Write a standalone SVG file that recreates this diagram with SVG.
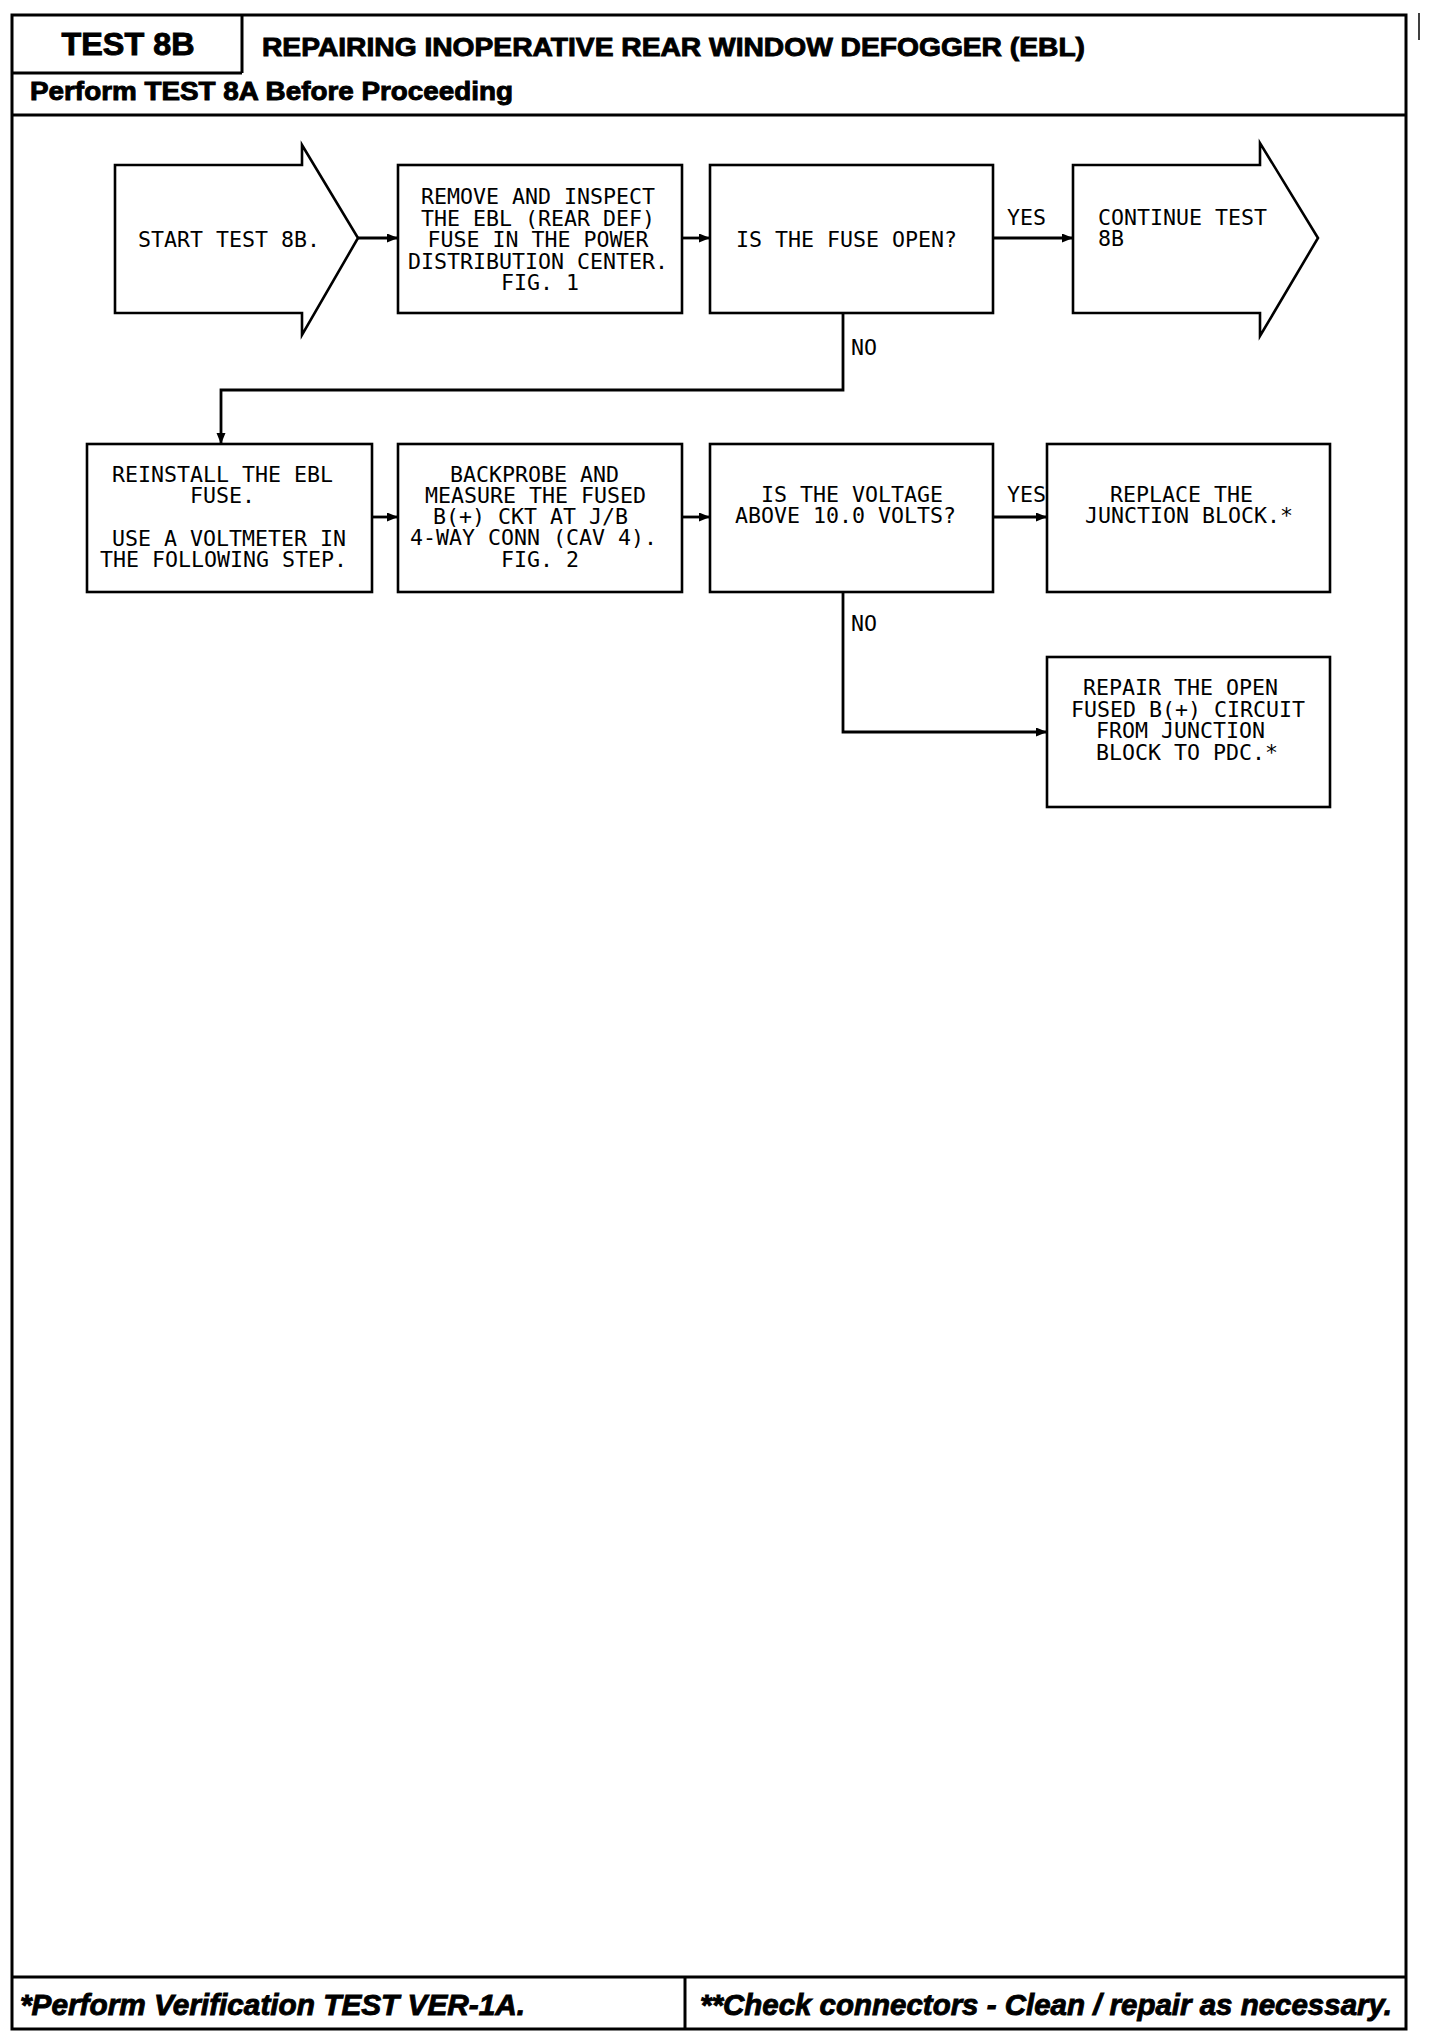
<svg xmlns="http://www.w3.org/2000/svg" width="1440" height="2036" viewBox="0 0 1440 2036">
<style>
.frame{fill:none;stroke:#000;stroke-width:3}
.box{fill:#fff;stroke:#000;stroke-width:2.6;stroke-linejoin:miter}
.conn{fill:none;stroke:#000;stroke-width:2.8}
.t{font-family:"DejaVu Sans Mono","Liberation Mono",monospace;font-size:21.6px;fill:#000}
.hb{font-family:"Liberation Sans",Arial,sans-serif;font-weight:bold;fill:#000;stroke:#000;stroke-width:0.9}
.fi{font-family:"Liberation Sans",Arial,sans-serif;font-weight:bold;font-style:italic;font-size:29px;fill:#000;stroke:#000;stroke-width:0.9}
</style>
<defs>
<marker id="ah" markerUnits="userSpaceOnUse" markerWidth="12" markerHeight="10" refX="11" refY="4.5" orient="auto">
<path d="M0,0 L11,4.5 L0,9 z" fill="#000"/>
</marker>
</defs>
<rect width="1440" height="2036" fill="#fff"/>

<g id="frame">
<rect class="frame" x="12" y="15" width="1394" height="2014"/>
<line class="frame" x1="242" y1="15" x2="242" y2="73"/>
<line class="frame" x1="12" y1="73" x2="242" y2="73"/>
<line class="frame" x1="12" y1="115" x2="1406" y2="115"/>
<line class="frame" x1="12" y1="1977" x2="1406" y2="1977"/>
<line class="frame" x1="685" y1="1977" x2="685" y2="2029"/>
<line x1="1419" y1="13" x2="1419" y2="40" stroke="#000" stroke-width="1.5"/>
</g>

<g id="header">
<text class="hb" x="128" y="55" font-size="31" text-anchor="middle" textLength="133" lengthAdjust="spacingAndGlyphs">TEST 8B</text>
<text class="hb" x="262" y="56" font-size="26" textLength="823" lengthAdjust="spacingAndGlyphs">REPAIRING INOPERATIVE REAR WINDOW DEFOGGER (EBL)</text>
<text class="hb" x="30" y="100" font-size="25" textLength="483" lengthAdjust="spacingAndGlyphs">Perform TEST 8A Before Proceeding</text>
</g>

<g id="connectors">
<path class="conn" d="M358,238 H398" marker-end="url(#ah)"/>
<path class="conn" d="M682,238 H710" marker-end="url(#ah)"/>
<path class="conn" d="M993,238 H1073" marker-end="url(#ah)"/>
<path class="conn" d="M843,313 V390 H221 V444" marker-end="url(#ah)"/>
<path class="conn" d="M372,517 H398" marker-end="url(#ah)"/>
<path class="conn" d="M682,517 H710" marker-end="url(#ah)"/>
<path class="conn" d="M993,517 H1047" marker-end="url(#ah)"/>
<path class="conn" d="M843,592 V732 H1047" marker-end="url(#ah)"/>
<text class="t" x="1007" y="225">YES</text>
<text class="t" x="851" y="355">NO</text>
<text class="t" x="1007" y="502">YES</text>
<text class="t" x="851" y="631">NO</text>
</g>

<g id="start">
<path class="box" d="M115,165 H302 V145 L358,238 L302,335 V313 H115 Z"/>
<text class="t" x="138" y="247">START TEST 8B.</text>
</g>

<g id="remove-fuse">
<rect class="box" x="398" y="165" width="284" height="148"/>
<text class="t" x="538" y="204" text-anchor="middle">REMOVE AND INSPECT</text>
<text class="t" x="538" y="225.5" text-anchor="middle">THE EBL (REAR DEF)</text>
<text class="t" x="538" y="247" text-anchor="middle">FUSE IN THE POWER</text>
<text class="t" x="538" y="268.5" text-anchor="middle">DISTRIBUTION CENTER.</text>
<text class="t" x="540" y="290" text-anchor="middle">FIG. 1</text>
</g>

<g id="fuse-open">
<rect class="box" x="710" y="165" width="283" height="148"/>
<text class="t" x="736" y="247">IS THE FUSE OPEN?</text>
</g>

<g id="continue">
<path class="box" d="M1073,165 H1260 V143 L1318,238 L1260,336 V313 H1073 Z"/>
<text class="t" x="1098" y="225">CONTINUE TEST</text>
<text class="t" x="1098" y="246">8B</text>
</g>

<g id="reinstall">
<rect class="box" x="87" y="444" width="285" height="148"/>
<text class="t" x="112" y="482">REINSTALL THE EBL</text>
<text class="t" x="190" y="503">FUSE.</text>
<text class="t" x="112" y="546">USE A VOLTMETER IN</text>
<text class="t" x="100" y="567">THE FOLLOWING STEP.</text>
</g>

<g id="backprobe">
<rect class="box" x="398" y="444" width="284" height="148"/>
<text class="t" x="450" y="482">BACKPROBE AND</text>
<text class="t" x="425" y="503">MEASURE THE FUSED</text>
<text class="t" x="433" y="524">B(+) CKT AT J/B</text>
<text class="t" x="410" y="545">4-WAY CONN (CAV 4).</text>
<text class="t" x="501" y="567">FIG. 2</text>
</g>

<g id="voltage">
<rect class="box" x="710" y="444" width="283" height="148"/>
<text class="t" x="761" y="502">IS THE VOLTAGE</text>
<text class="t" x="735" y="523">ABOVE 10.0 VOLTS?</text>
</g>

<g id="replace-jb">
<rect class="box" x="1047" y="444" width="283" height="148"/>
<text class="t" x="1110" y="502">REPLACE THE</text>
<text class="t" x="1085" y="523">JUNCTION BLOCK.*</text>
</g>

<g id="repair-circuit">
<rect class="box" x="1047" y="657" width="283" height="150"/>
<text class="t" x="1083" y="695">REPAIR THE OPEN</text>
<text class="t" x="1071" y="716.5">FUSED B(+) CIRCUIT</text>
<text class="t" x="1096" y="738">FROM JUNCTION</text>
<text class="t" x="1096" y="759.5">BLOCK TO PDC.*</text>
</g>

<g id="footer">
<text class="fi" x="20" y="2015" textLength="505" lengthAdjust="spacingAndGlyphs">*Perform Verification TEST VER-1A.</text>
<text class="fi" x="700" y="2015" textLength="692" lengthAdjust="spacingAndGlyphs">**Check connectors - Clean / repair as necessary.</text>
</g>
</svg>
